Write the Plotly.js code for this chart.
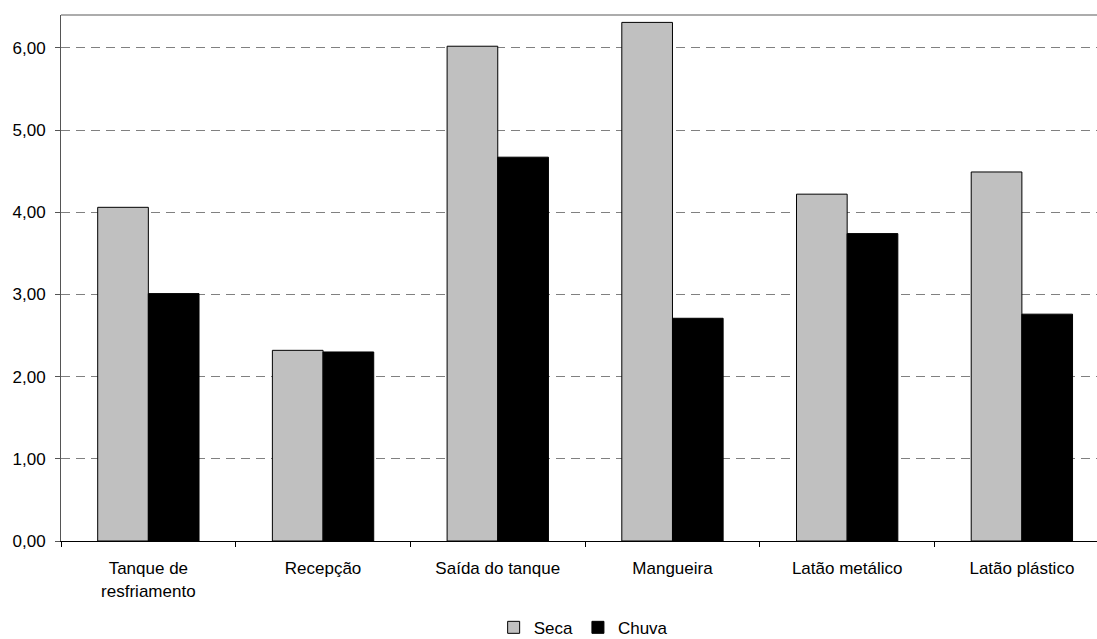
<!DOCTYPE html>
<html>
<head>
<meta charset="utf-8">
<script src="https://cdn.plot.ly/plotly-3.0.1.min.js"></script>
<style>
  html, body { margin: 0; padding: 0; background: #fff; overflow: hidden; }
  #chart { width: 1097px; height: 639px; }
</style>
</head>
<body>
<div id="chart"></div>
<script>
// Sampling points along the milk collection chain
const categories = [
  "Tanque de<br>resfriamento",
  "Recepção",
  "Saída do tanque",
  "Mangueira",
  "Latão metálico",
  "Latão plástico"
];

// Values per season
const seca  = [4.06, 2.32, 6.02, 6.31, 4.22, 4.49];
const chuva = [3.01, 2.30, 4.67, 2.71, 3.74, 2.76];

const yTicks = [0, 1, 2, 3, 4, 5, 6];

const font = { family: "Liberation Sans, Arial, sans-serif", size: 17, color: "#000" };

const traces = [
  {
    type: "bar",
    name: "Seca",
    x: categories,
    y: seca,
    marker: { color: "#c0c0c0", line: { color: "#000", width: 1 } },
    hoverinfo: "skip"
  },
  {
    type: "bar",
    name: "Chuva",
    x: categories,
    y: chuva,
    marker: { color: "#000000", line: { color: "#000", width: 1 } },
    hoverinfo: "skip"
  }
];

const layout = {
  width: 1097,
  height: 639,
  margin: { l: 61, r: 0, t: 15, b: 98, autoexpand: false },
  paper_bgcolor: "#fff",
  plot_bgcolor: "#fff",
  font: font,
  separators: ",.",
  barmode: "group",
  bargap: 0.42,
  bargroupgap: 0,
  showlegend: true,
  legend: {
    orientation: "h",
    x: 0.504,
    xanchor: "center",
    y: -0.165,
    yanchor: "middle",
    font: font,
    itemwidth: 30,
    tracegroupgap: 0
  },
  xaxis: {
    type: "category",
    range: [-0.5, 5.43],
    automargin: false,
    showgrid: false,
    showline: true,
    linecolor: "#000",
    linewidth: 1,
    ticks: "outside",
    tickson: "boundaries",
    ticklen: 5,
    tickcolor: "#000",
    tickfont: font,
    ticklabelstandoff: 12,
    zeroline: false,
    fixedrange: true
  },
  yaxis: {
    range: [0, 6.4],
    automargin: false,
    tickvals: yTicks,
    tickformat: ".2f",
    showgrid: true,
    gridcolor: "#808080",
    gridwidth: 1,
    griddash: "9px,6px",
    showline: true,
    linecolor: "#555",
    linewidth: 1,
    ticks: "outside",
    ticklen: 5,
    tickcolor: "#555",
    tickfont: font,
    ticklabelstandoff: 6,
    zeroline: false,
    fixedrange: true
  },
  shapes: [
    {
      type: "line",
      xref: "paper", yref: "paper",
      x0: 0, x1: 1, y0: 1, y1: 1,
      line: { color: "#909090", width: 1.5 }
    }
  ]
};

Plotly.newPlot("chart", traces, layout, { staticPlot: true, displayModeBar: false });
</script>
</body>
</html>
